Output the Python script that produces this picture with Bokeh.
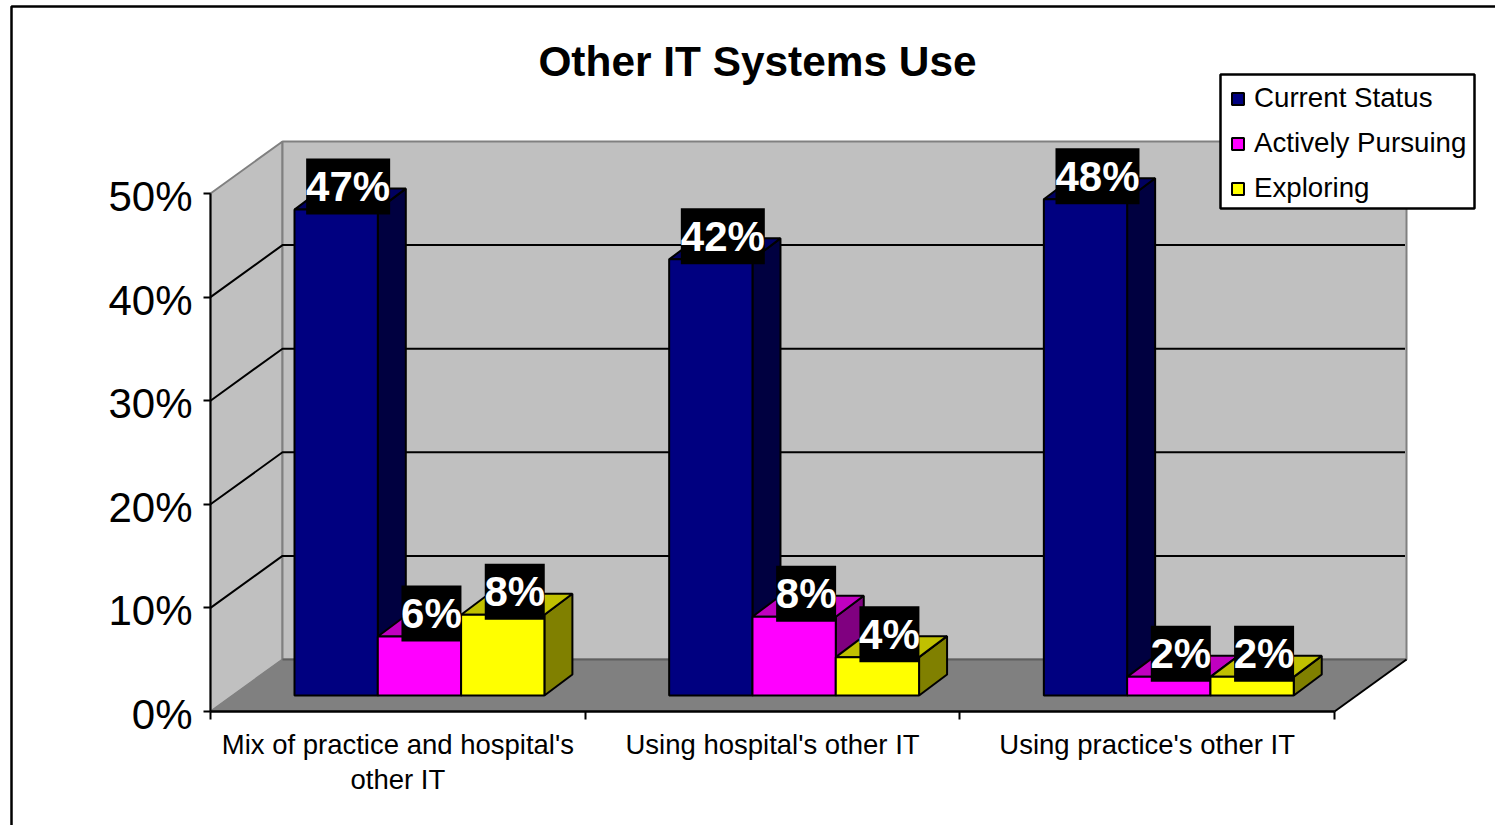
from bokeh.core.properties import value
from bokeh.embed import file_html
from bokeh.models import FixedTicker, Legend, LegendItem, LinearAxis
from bokeh.plotting import figure
from bokeh.resources import INLINE

# ---------- data ----------
title = "Other IT Systems Use"
categories = ["Mix of practice and hospital's\nother IT", "Using hospital's other IT", "Using practice's other IT"]
series_names = ["Current Status", "Actively Pursuing", "Exploring"]
current_status = [46.9, 42.1, 47.9]
actively_pursuing = [5.7, 7.6, 1.8]
exploring = [7.8, 3.7, 1.8]
y_ticks = [0, 10, 20, 30, 40, 50]
y_tick_labels = ["0%", "10%", "20%", "30%", "40%", "50%"]

# ---------- layout (pixels of the page) ----------
W, H = 1495, 825
X0, PX_PER_CAT = 210.0, 374.67      # category axis origin, px per category
Y0, PX_PER_PCT = 711.0, 10.36       # value axis origin, px per percent
FONT = value("Liberation Sans")


def dx(px):
    return px / PX_PER_CAT


def dy(px):
    return px / PX_PER_PCT


def X(px):
    return (px - X0) / PX_PER_CAT


def Y(px):
    return (Y0 - px) / PX_PER_PCT


p = figure(width=W, height=H, output_backend="svg", toolbar_location=None,
           x_range=(X(0), X(W)), y_range=(Y(H), Y(0)),
           min_border=0, min_border_left=0, min_border_right=0, min_border_top=0, min_border_bottom=0,
           x_axis_type=None, y_axis_type=None)
p.grid.visible = False
p.outline_line_color = None
p.background_fill_color = "white"
p.border_fill_color = "white"
p.styles = {"position": "absolute", "left": "0px", "top": "0px"}

# outer chart-area border (left and top edges are visible)
p.line([X(11), X(11), X(W + 5)], [Y(H + 5), Y(6), Y(6)], line_color="black", line_width=2.5)

# ---------- 3-D box of the chart ----------
WALL_DX, WALL_DY = dx(72), dy(52)
top, right = y_ticks[-1], len(categories)

p.patch([0, WALL_DX, WALL_DX, 0], [0, WALL_DY, top + WALL_DY, top],
        fill_color="#C0C0C0", line_color="#808080", line_width=2)
p.patch([WALL_DX, right + WALL_DX, right + WALL_DX, WALL_DX],
        [WALL_DY, WALL_DY, top + WALL_DY, top + WALL_DY],
        fill_color="#C0C0C0", line_color="#808080", line_width=2)
p.patch([0, WALL_DX, right + WALL_DX, right],
        [0, WALL_DY, WALL_DY, 0], fill_color="#808080", line_color="#808080", line_width=1)
p.line([WALL_DX, right + WALL_DX], [WALL_DY, WALL_DY], line_color="#5F5F5F", line_width=2)
p.line([right, right + WALL_DX], [0, WALL_DY], line_color="black", line_width=2)

grid_ticks = y_ticks[1:-1]
p.multi_line([[0, WALL_DX, right + WALL_DX - dx(1.5)] for _ in grid_ticks],
             [[t, t + WALL_DY, t + WALL_DY] for t in grid_ticks],
             line_color="black", line_width=2)

# ---------- bars ----------
BAR_W = dx(83.3)
BAR_LEFT = dx(84)        # first bar's left edge inside its category
BASE = dy(16)            # bars stand on the floor, 16px above the front edge
DEPTH_X, DEPTH_Y = dx(28), dy(21)

series = [
    (current_status, "#000080", "#000060", "#000040"),
    (actively_pursuing, "#FF00FF", "#C000C0", "#800080"),
    (exploring, "#FFFF00", "#C0C000", "#808000"),
]
legend_items = []
label_x, label_y, label_text = [], [], []
for s, (values, front, top_c, side) in enumerate(series):
    lefts = [i + BAR_LEFT + s * BAR_W for i in range(len(values))]
    rights = [x + BAR_W for x in lefts]
    tops = [v + BASE for v in values]
    p.patches([[r, r + DEPTH_X, r + DEPTH_X, r] for r in rights],
              [[BASE, BASE + DEPTH_Y, t + DEPTH_Y, t] for t in tops],
              fill_color=side, line_color="black", line_width=2)
    p.patches([[l, l + DEPTH_X, r + DEPTH_X, r] for l, r in zip(lefts, rights)],
              [[t, t + DEPTH_Y, t + DEPTH_Y, t] for t in tops],
              fill_color=top_c, line_color="black", line_width=2)
    q = p.quad(left=lefts, right=rights, bottom=BASE, top=tops,
               fill_color=front, line_color="black", line_width=2)
    legend_items.append(LegendItem(label=series_names[s], renderers=[q]))
    for l, t, v in zip(lefts, tops, values):
        label_x.append(l + BAR_W / 2 + dx(12))
        label_y.append(t + dy(23))
        label_text.append(f"{round(v)}%")

# ---------- data labels ----------
p.rect(label_x, label_y,
       width=[dx(84 if len(t) == 3 else 60) for t in label_text], height=dy(56),
       fill_color="black", line_color=None)
p.text(label_x, label_y, text=label_text, text_color="white", text_font=FONT,
       text_font_style="bold", text_font_size="42px", text_align="center", text_baseline="middle")

# ---------- title ----------
p.text([X(757)], [Y(61)], text=[title], text_font=FONT, text_font_style="bold",
       text_font_size="42.4px", text_color="black", text_align="center", text_baseline="middle")

# ---------- axes ----------
# the value axis: line and ticks
y_axis = LinearAxis(fixed_location=0, bounds=(y_ticks[0], y_ticks[-1]),
                    ticker=FixedTicker(ticks=[], minor_ticks=y_ticks))
y_axis.axis_line_color = "black"
y_axis.axis_line_width = 2
y_axis.major_tick_line_color = None
y_axis.minor_tick_line_color = "black"
y_axis.minor_tick_line_width = 2
y_axis.minor_tick_in = 0
y_axis.minor_tick_out = 7
p.add_layout(y_axis, "left")

# the value axis' labels sit a little below their ticks in the reference
LABEL_DROP = dy(3)
label_pos = [t - LABEL_DROP for t in y_ticks]
y_labels = LinearAxis(fixed_location=0, bounds=(label_pos[0], y_ticks[-1]),
                      ticker=FixedTicker(ticks=label_pos),
                      major_label_overrides=dict(zip(label_pos, y_tick_labels)))
y_labels.axis_line_color = None
y_labels.major_tick_line_color = None
y_labels.minor_tick_line_color = None
y_labels.major_tick_in = 0
y_labels.major_tick_out = 0
y_labels.major_label_standoff = 18
y_labels.major_label_text_font = "Liberation Sans"
y_labels.major_label_text_font_size = "42px"
y_labels.major_label_text_color = "black"
p.add_layout(y_labels, "left")

label_ticks = [i + 0.5 for i in range(len(categories))]
edge_ticks = list(range(len(categories) + 1))
x_axis = LinearAxis(fixed_location=0, bounds=(0, len(categories)),
                    ticker=FixedTicker(ticks=label_ticks, minor_ticks=edge_ticks),
                    major_label_overrides=dict(zip(label_ticks, categories)))
x_axis.axis_line_color = "black"
x_axis.axis_line_width = 2.5
x_axis.major_tick_line_color = None
x_axis.major_tick_in = 0
x_axis.major_tick_out = 0
x_axis.minor_tick_line_color = "black"
x_axis.minor_tick_line_width = 2
x_axis.minor_tick_in = 0
x_axis.minor_tick_out = 8
x_axis.major_label_standoff = 9
x_axis.major_label_text_font = "Liberation Sans"
x_axis.major_label_text_font_size = "27.5px"
x_axis.major_label_text_line_height = 1.16
x_axis.major_label_text_color = "black"
p.add_layout(x_axis, "below")

# ---------- legend ----------
# frame of the legend box, tighter than the legend's own layout allows
p.quad(left=X(1220), right=X(1474), top=Y(74), bottom=Y(208),
       fill_color="white", line_color="black", line_width=2.5)
legend = Legend(items=legend_items, location=(1230, H - 204), orientation="vertical",
                margin=0, padding=0, spacing=13, label_standoff=9,
                glyph_width=15, glyph_height=15,
                label_text_font="Liberation Sans", label_text_font_size="27.7px",
                label_text_color="black", border_line_color=None,
                background_fill_alpha=0)
p.add_layout(legend, "center")

open("out.html", "w").write(file_html(p, INLINE))
